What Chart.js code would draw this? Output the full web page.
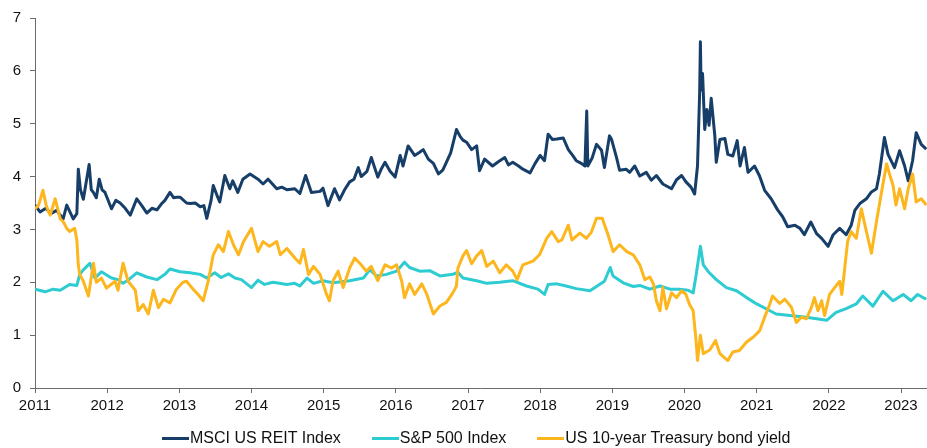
<!DOCTYPE html>
<html>
<head>
<meta charset="utf-8">
<script src="https://cdn.jsdelivr.net/npm/chart.js@4.4.1/dist/chart.umd.min.js"></script>
<style>
  html, body { margin: 0; padding: 0; background: #fff; }
  #wrap { position: relative; width: 927px; height: 448px; }
  #legend {
    position: absolute; left: 162px; top: 428px; height: 20px;
    display: flex; gap: 31px; align-items: center;
    font-family: "Liberation Sans", Arial, sans-serif; font-size: 16px; color: #111;
    line-height: 20px; white-space: nowrap;
  }
  #legend .item { display: flex; align-items: center; }
  #legend .swatch { display: inline-block; width: 27px; height: 3px; margin-right: 1px; }
</style>
</head>
<body>
<div id="wrap">
  <canvas id="chart" width="927" height="448"></canvas>
  <div id="legend"></div>
</div>
<script>
// Series labels and colours
const seriesNames = ['MSCI US REIT Index', 'S&P 500 Index', 'US 10-year Treasury bond yield'];
const seriesColors = ['#163E68', '#2DCBD2', '#FDB61E'];

// Year ticks on the x axis
const yearTicks = [2011, 2012, 2013, 2014, 2015, 2016, 2017, 2018, 2019, 2020, 2021, 2022, 2023];

// MSCI US REIT Index (dates as decimal years)
const reitDates = [
  2011.00, 2011.07, 2011.15, 2011.22, 2011.30, 2011.39, 2011.44, 2011.53, 2011.58, 2011.60,
  2011.63, 2011.67, 2011.75, 2011.78, 2011.81, 2011.85, 2011.89, 2011.93, 2011.97, 2012.06,
  2012.12, 2012.18, 2012.25, 2012.32, 2012.41, 2012.48, 2012.55, 2012.62, 2012.69, 2012.75,
  2012.80, 2012.87, 2012.92, 2012.96, 2013.01, 2013.10, 2013.15, 2013.22, 2013.29, 2013.34,
  2013.38, 2013.44, 2013.47, 2013.52, 2013.56, 2013.63, 2013.70, 2013.74, 2013.81, 2013.88,
  2013.98, 2014.09, 2014.16, 2014.23, 2014.35, 2014.42, 2014.49, 2014.60, 2014.67, 2014.75,
  2014.83, 2014.95, 2014.99, 2015.06, 2015.15, 2015.22, 2015.29, 2015.36, 2015.42, 2015.48,
  2015.52, 2015.60, 2015.66, 2015.75, 2015.80, 2015.85, 2015.92, 2015.99, 2016.06, 2016.10,
  2016.17, 2016.26, 2016.32, 2016.38, 2016.45, 2016.52, 2016.59, 2016.65, 2016.70, 2016.76,
  2016.84, 2016.89, 2016.93, 2016.98, 2017.05, 2017.12, 2017.16, 2017.23, 2017.34, 2017.42,
  2017.51, 2017.56, 2017.62, 2017.70, 2017.76, 2017.86, 2017.93, 2018.00, 2018.06, 2018.11,
  2018.17, 2018.23, 2018.32, 2018.39, 2018.45, 2018.50, 2018.57, 2018.62, 2018.645, 2018.66,
  2018.72, 2018.78, 2018.85, 2018.89, 2018.96, 2018.99, 2019.06, 2019.10, 2019.19, 2019.24,
  2019.31, 2019.38, 2019.47, 2019.54, 2019.61, 2019.70, 2019.82, 2019.89, 2019.96, 2020.02,
  2020.09, 2020.14, 2020.18, 2020.21, 2020.22, 2020.23, 2020.25, 2020.28, 2020.31, 2020.34,
  2020.37, 2020.42, 2020.44, 2020.49, 2020.56, 2020.60, 2020.67, 2020.73, 2020.77, 2020.83,
  2020.88, 2020.97, 2021.04, 2021.11, 2021.20, 2021.29, 2021.36, 2021.43, 2021.53, 2021.60,
  2021.66, 2021.75, 2021.83, 2021.90, 2021.99, 2022.06, 2022.15, 2022.24, 2022.31, 2022.36,
  2022.43, 2022.52, 2022.59, 2022.66, 2022.70, 2022.77, 2022.82, 2022.91, 2022.98, 2023.05,
  2023.10, 2023.16, 2023.21, 2023.28, 2023.35
];
const reitValues = [
  3.46, 3.33, 3.40, 3.30, 3.36, 3.20, 3.46, 3.20, 3.30, 4.14,
  3.75, 3.57, 4.23, 3.75, 3.70, 3.60, 3.95, 3.75, 3.70, 3.39,
  3.55, 3.50, 3.40, 3.27, 3.58, 3.45, 3.31, 3.40, 3.37, 3.48,
  3.55, 3.70, 3.60, 3.61, 3.61, 3.50, 3.49, 3.50, 3.43, 3.45,
  3.21, 3.55, 3.83, 3.65, 3.52, 4.02, 3.77, 3.92, 3.70, 3.95,
  4.05, 3.95, 3.86, 3.95, 3.77, 3.80, 3.75, 3.77, 3.68, 4.02,
  3.70, 3.72, 3.78, 3.45, 3.77, 3.56, 3.75, 3.90, 3.95, 4.17,
  4.00, 4.10, 4.36, 3.99, 4.15, 4.27, 4.10, 3.99, 4.40, 4.20,
  4.58, 4.40, 4.45, 4.51, 4.33, 4.25, 4.05, 4.12, 4.27, 4.45,
  4.89, 4.76, 4.69, 4.65, 4.51, 4.58, 4.11, 4.33, 4.20, 4.28,
  4.36, 4.22, 4.27, 4.20, 4.14, 4.07, 4.25, 4.40, 4.30, 4.80,
  4.70, 4.71, 4.73, 4.51, 4.40, 4.30, 4.25, 4.20, 5.24, 4.20,
  4.35, 4.61, 4.50, 4.17, 4.77, 4.70, 4.35, 4.12, 4.14, 4.08,
  4.20, 4.01, 4.08, 3.93, 4.02, 3.86, 3.77, 3.94, 4.02, 3.90,
  3.80, 3.67, 4.20, 5.60, 6.55, 5.64, 5.95, 4.89, 5.27, 4.97,
  5.48, 4.77, 4.27, 4.70, 4.72, 4.42, 4.39, 4.68, 4.20, 4.55,
  4.08, 4.20, 4.01, 3.74, 3.58, 3.37, 3.24, 3.05, 3.08, 3.02,
  2.90, 3.14, 2.92, 2.83, 2.68, 2.90, 3.02, 2.90, 3.08, 3.36,
  3.49, 3.58, 3.71, 3.77, 4.05, 4.74, 4.42, 4.17, 4.49, 4.20,
  3.92, 4.30, 4.83, 4.61, 4.52
];

// S&P 500 Index
const spxDates = [
  2011.00, 2011.14, 2011.25, 2011.35, 2011.48, 2011.58, 2011.62, 2011.68, 2011.76, 2011.83,
  2011.92, 2012.06, 2012.15, 2012.22, 2012.30, 2012.41, 2012.55, 2012.69, 2012.80, 2012.87,
  2013.01, 2013.15, 2013.29, 2013.38, 2013.49, 2013.58, 2013.68, 2013.77, 2013.86, 2014.00,
  2014.09, 2014.18, 2014.30, 2014.49, 2014.60, 2014.67, 2014.77, 2014.86, 2014.99, 2015.13,
  2015.36, 2015.55, 2015.64, 2015.73, 2015.87, 2016.01, 2016.12, 2016.19, 2016.33, 2016.47,
  2016.61, 2016.79, 2016.86, 2016.93, 2017.12, 2017.26, 2017.44, 2017.62, 2017.81, 2017.97,
  2018.06, 2018.11, 2018.23, 2018.36, 2018.50, 2018.69, 2018.78, 2018.89, 2018.97, 2019.01,
  2019.15, 2019.29, 2019.38, 2019.52, 2019.66, 2019.80, 2019.93, 2020.05, 2020.12, 2020.16,
  2020.22, 2020.26, 2020.33, 2020.44, 2020.58, 2020.72, 2020.86, 2021.00, 2021.13, 2021.27,
  2021.46, 2021.69, 2021.83, 2021.97, 2022.10, 2022.24, 2022.38, 2022.47, 2022.61, 2022.75,
  2022.89, 2023.03, 2023.14, 2023.23, 2023.35
];
const spxValues = [
  1.87, 1.82, 1.87, 1.85, 1.96, 1.94, 2.15, 2.25, 2.36, 2.08,
  2.20, 2.08, 2.05, 1.98, 2.05, 2.18, 2.10, 2.05, 2.15, 2.25,
  2.20, 2.18, 2.15, 2.08, 2.18, 2.09, 2.16, 2.08, 2.05, 1.90,
  2.04, 1.96, 2.00, 1.96, 1.98, 1.93, 2.08, 1.98, 2.03, 1.99,
  2.03, 2.08, 2.24, 2.12, 2.15, 2.21, 2.38, 2.28, 2.21, 2.22,
  2.12, 2.15, 2.19, 2.08, 2.03, 1.98, 2.00, 2.03, 1.93, 1.87,
  1.77, 1.96, 1.97, 1.93, 1.88, 1.84, 1.92, 2.02, 2.28, 2.12,
  1.99, 1.92, 1.94, 1.87, 1.93, 1.87, 1.87, 1.85, 1.80, 2.13,
  2.68, 2.33, 2.20, 2.05, 1.90, 1.84, 1.71, 1.59, 1.50, 1.40,
  1.37, 1.34, 1.31, 1.28, 1.43, 1.50, 1.59, 1.74, 1.55, 1.83,
  1.65, 1.77, 1.65, 1.77, 1.68
];

// US 10-year Treasury bond yield
const tsyDates = [
  2011.00, 2011.05, 2011.11, 2011.16, 2011.21, 2011.28, 2011.35, 2011.39, 2011.44, 2011.48,
  2011.55, 2011.58, 2011.60, 2011.62, 2011.67, 2011.74, 2011.81, 2011.85, 2011.92, 2011.99,
  2012.11, 2012.15, 2012.22, 2012.29, 2012.39, 2012.43, 2012.50, 2012.57, 2012.64, 2012.71,
  2012.78, 2012.87, 2012.96, 2013.05, 2013.10, 2013.19, 2013.26, 2013.33, 2013.40, 2013.47,
  2013.54, 2013.61, 2013.68, 2013.75, 2013.82, 2013.89, 2014.00, 2014.09, 2014.16, 2014.25,
  2014.35, 2014.40, 2014.49, 2014.60, 2014.67, 2014.72, 2014.79, 2014.86, 2014.95, 2015.04,
  2015.08, 2015.13, 2015.20, 2015.27, 2015.36, 2015.43, 2015.52, 2015.59, 2015.66, 2015.75,
  2015.85, 2015.94, 2016.01, 2016.08, 2016.12, 2016.19, 2016.26, 2016.36, 2016.43, 2016.52,
  2016.61, 2016.70, 2016.79, 2016.84, 2016.86, 2016.93, 2016.98, 2017.05, 2017.12, 2017.19,
  2017.26, 2017.35, 2017.44, 2017.53, 2017.62, 2017.68, 2017.76, 2017.90, 2017.99, 2018.09,
  2018.16, 2018.25, 2018.30, 2018.39, 2018.44, 2018.55, 2018.64, 2018.71, 2018.78, 2018.86,
  2018.94, 2019.01, 2019.10, 2019.20, 2019.29, 2019.38, 2019.45, 2019.52, 2019.57, 2019.61,
  2019.66, 2019.70, 2019.75, 2019.82, 2019.89, 2019.96, 2020.02, 2020.07, 2020.12, 2020.16,
  2020.18, 2020.22, 2020.26, 2020.35, 2020.43, 2020.49, 2020.60, 2020.67, 2020.76, 2020.86,
  2020.95, 2021.04, 2021.11, 2021.18, 2021.22, 2021.32, 2021.39, 2021.48, 2021.55, 2021.62,
  2021.69, 2021.76, 2021.80, 2021.85, 2021.90, 2021.94, 2022.01, 2022.08, 2022.15, 2022.18,
  2022.22, 2022.26, 2022.31, 2022.38, 2022.45, 2022.52, 2022.59, 2022.66, 2022.73, 2022.80,
  2022.84, 2022.89, 2022.93, 2022.98, 2023.05, 2023.10, 2023.16, 2023.21, 2023.28, 2023.35
];
const tsyValues = [
  3.39, 3.46, 3.74, 3.43, 3.27, 3.58, 3.20, 3.15, 3.02, 2.96,
  3.02, 2.80, 2.33, 2.15, 2.02, 1.74, 2.36, 2.00, 2.08, 1.89,
  2.02, 1.85, 2.36, 2.02, 1.85, 1.46, 1.58, 1.40, 1.85, 1.52,
  1.68, 1.61, 1.87, 2.00, 2.02, 1.87, 1.77, 1.65, 2.02, 2.52,
  2.71, 2.58, 2.96, 2.71, 2.52, 2.77, 3.02, 2.58, 2.77, 2.68,
  2.77, 2.52, 2.64, 2.46, 2.36, 2.62, 2.15, 2.30, 2.15, 1.77,
  1.65, 2.03, 2.21, 1.90, 2.27, 2.46, 2.33, 2.21, 2.30, 2.03,
  2.33, 2.27, 2.33, 2.03, 1.71, 1.97, 1.77, 1.97, 1.77, 1.40,
  1.55, 1.62, 1.80, 1.93, 2.27, 2.50, 2.60, 2.35, 2.50, 2.60,
  2.30, 2.40, 2.18, 2.33, 2.21, 2.05, 2.33, 2.40, 2.52, 2.83,
  2.96, 2.77, 2.80, 3.08, 2.80, 2.93, 2.83, 2.95, 3.21, 3.21,
  2.90, 2.58, 2.71, 2.58, 2.52, 2.33, 2.05, 2.10, 1.97, 1.65,
  1.46, 1.90, 1.50, 1.80, 1.71, 1.84, 1.77, 1.58, 1.46, 0.90,
  0.52, 1.00, 0.65, 0.72, 0.90, 0.65, 0.52, 0.68, 0.71, 0.87,
  0.96, 1.08, 1.34, 1.58, 1.74, 1.60, 1.68, 1.53, 1.24, 1.34,
  1.31, 1.53, 1.71, 1.46, 1.65, 1.37, 1.77, 1.90, 2.02, 1.77,
  2.27, 2.77, 2.96, 2.83, 3.39, 2.96, 2.55, 3.15, 3.71, 4.24,
  4.05, 3.83, 3.46, 3.77, 3.39, 3.77, 4.05, 3.52, 3.58, 3.46
];

function toPoints(xs, ys) {
  return xs.map((x, i) => ({ x: x, y: ys[i] }));
}

const fontFamily = '"Liberation Sans", Arial, sans-serif';
const axisColor = '#6b6b6b';

function makeDataset(i, xs, ys, order) {
  return {
    label: seriesNames[i],
    data: toPoints(xs, ys),
    borderColor: seriesColors[i],
    backgroundColor: seriesColors[i],
    borderWidth: 3,
    borderJoinStyle: 'round',
    pointRadius: 0,
    tension: 0,
    order: order
  };
}

const ctx = document.getElementById('chart').getContext('2d');

const chart = new Chart(ctx, {
  type: 'line',
  data: {
    datasets: [
      makeDataset(0, reitDates, reitValues, 3),
      makeDataset(1, spxDates, spxValues, 2),
      makeDataset(2, tsyDates, tsyValues, 1)
    ]
  },
  options: {
    responsive: false,
    animation: false,
    devicePixelRatio: 1,
    layout: { padding: { top: 14, right: 0, bottom: 35, left: 0 } },
    plugins: {
      legend: { display: false },
      tooltip: { enabled: false }
    },
    scales: {
      x: {
        type: 'linear',
        min: 2011,
        max: 2023.36,
        afterFit: (scale) => { scale.height = 25; },
        afterBuildTicks: (scale) => {
          scale.ticks = yearTicks.map(v => ({ value: v }));
        },
        grid: {
          drawOnChartArea: false,
          drawTicks: true,
          tickLength: 5,
          color: axisColor
        },
        border: { display: true, color: axisColor, width: 1 },
        ticks: {
          autoSkip: false,
          maxRotation: 0,
          padding: 4,
          color: '#111',
          font: { family: fontFamily, size: 15 },
          callback: (v) => String(v)
        }
      },
      y: {
        min: 0,
        max: 7,
        afterFit: (scale) => { scale.width = 35; },
        grid: {
          drawOnChartArea: false,
          drawTicks: true,
          tickLength: 5,
          color: axisColor
        },
        border: { display: true, color: axisColor, width: 1 },
        ticks: {
          stepSize: 1,
          padding: 9,
          color: '#111',
          font: { family: fontFamily, size: 15 }
        }
      }
    }
  }
});

// Legend built from the chart's own datasets
const legendEl = document.getElementById('legend');
chart.data.datasets.forEach(ds => {
  const item = document.createElement('span');
  item.className = 'item';
  const sw = document.createElement('span');
  sw.className = 'swatch';
  sw.style.background = ds.borderColor;
  const txt = document.createElement('span');
  txt.textContent = ds.label;
  item.appendChild(sw);
  item.appendChild(txt);
  legendEl.appendChild(item);
});
</script>
</body>
</html>
